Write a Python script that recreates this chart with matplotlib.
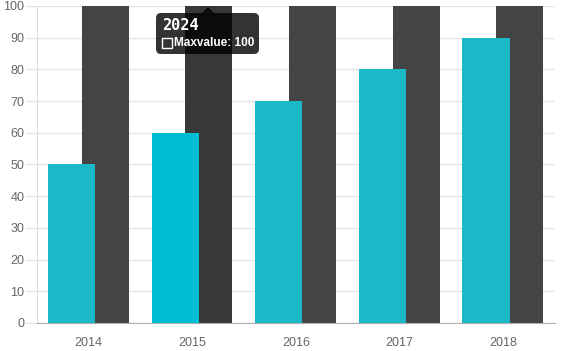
import matplotlib.pyplot as plt
from matplotlib.patches import FancyBboxPatch, Polygon, Rectangle

plt.rcParams['font.family'] = ['Liberation Sans', 'DejaVu Sans']

years = ["2014", "2015", "2016", "2017", "2018"]
values = [50, 60, 70, 80, 90]
maxvalue = [100, 100, 100, 100, 100]
hover = 1  # 2015 group is highlighted by the tooltip

teal = "#1db8c8"
teal_hi = "#00bfd3"
dark = "#444444"
dark_hi = "#383838"

fig = plt.figure(figsize=(5.7, 3.51), dpi=100)
ax = fig.add_axes([0.0644, 0.0798, 0.9093, 0.9032])

x = range(len(years))
w = 0.455
dark_cols = [dark_hi if i == hover else dark for i in x]
teal_cols = [teal_hi if i == hover else teal for i in x]
ax.bar([i + 0.16 for i in x], maxvalue, width=w, color=dark_cols, zorder=2)
ax.bar([i - 0.165 for i in x], values, width=w, color=teal_cols, zorder=3)

ax.set_xlim(-0.5, len(years) - 0.5)
ax.set_ylim(0, 100)
ax.set_yticks(range(0, 101, 10))
ax.set_xticks(list(x))
ax.set_xticklabels(years)
ax.grid(axis="y", color="#e5e5e5", lw=1, zorder=0)
ax.tick_params(axis="y", length=8, color="#e0e0e0", labelsize=9, labelcolor="#666666", pad=1)
ax.tick_params(axis="x", length=0, labelsize=9, labelcolor="#666666", pad=10)
for s in ["top", "right"]:
    ax.spines[s].set_visible(False)
ax.spines["left"].set_color("#dcdcdc")
ax.spines["bottom"].set_color("#b0b0b0")

# tooltip, drawn in pixel space
fig.add_artist(FancyBboxPatch((156, 351 - 54), 103, 41, boxstyle="round,pad=0,rounding_size=5",
                              transform=None, fc=(0, 0, 0, 0.8), ec="none", zorder=10))
fig.add_artist(Polygon([(202, 351 - 13), (214, 351 - 13), (208, 351 - 7)], closed=True,
                       transform=None, fc=(0, 0, 0, 0.8), ec="none", zorder=10))
fig.text(162 / 570, 1 - 25 / 351, "2024", color="white", fontsize=11, fontweight="bold",
         family="DejaVu Sans Mono", va="center", ha="left", zorder=11)
fig.add_artist(Rectangle((162, 351 - 48), 10, 10, transform=None, fc="none", ec="white",
                         lw=1, zorder=11))
fig.text(174 / 570, 1 - 43 / 351, "Maxvalue: 100", color="white", fontsize=8.5, fontweight="bold",
         va="center", ha="left", zorder=11)

fig.savefig("out.png", dpi=100)
